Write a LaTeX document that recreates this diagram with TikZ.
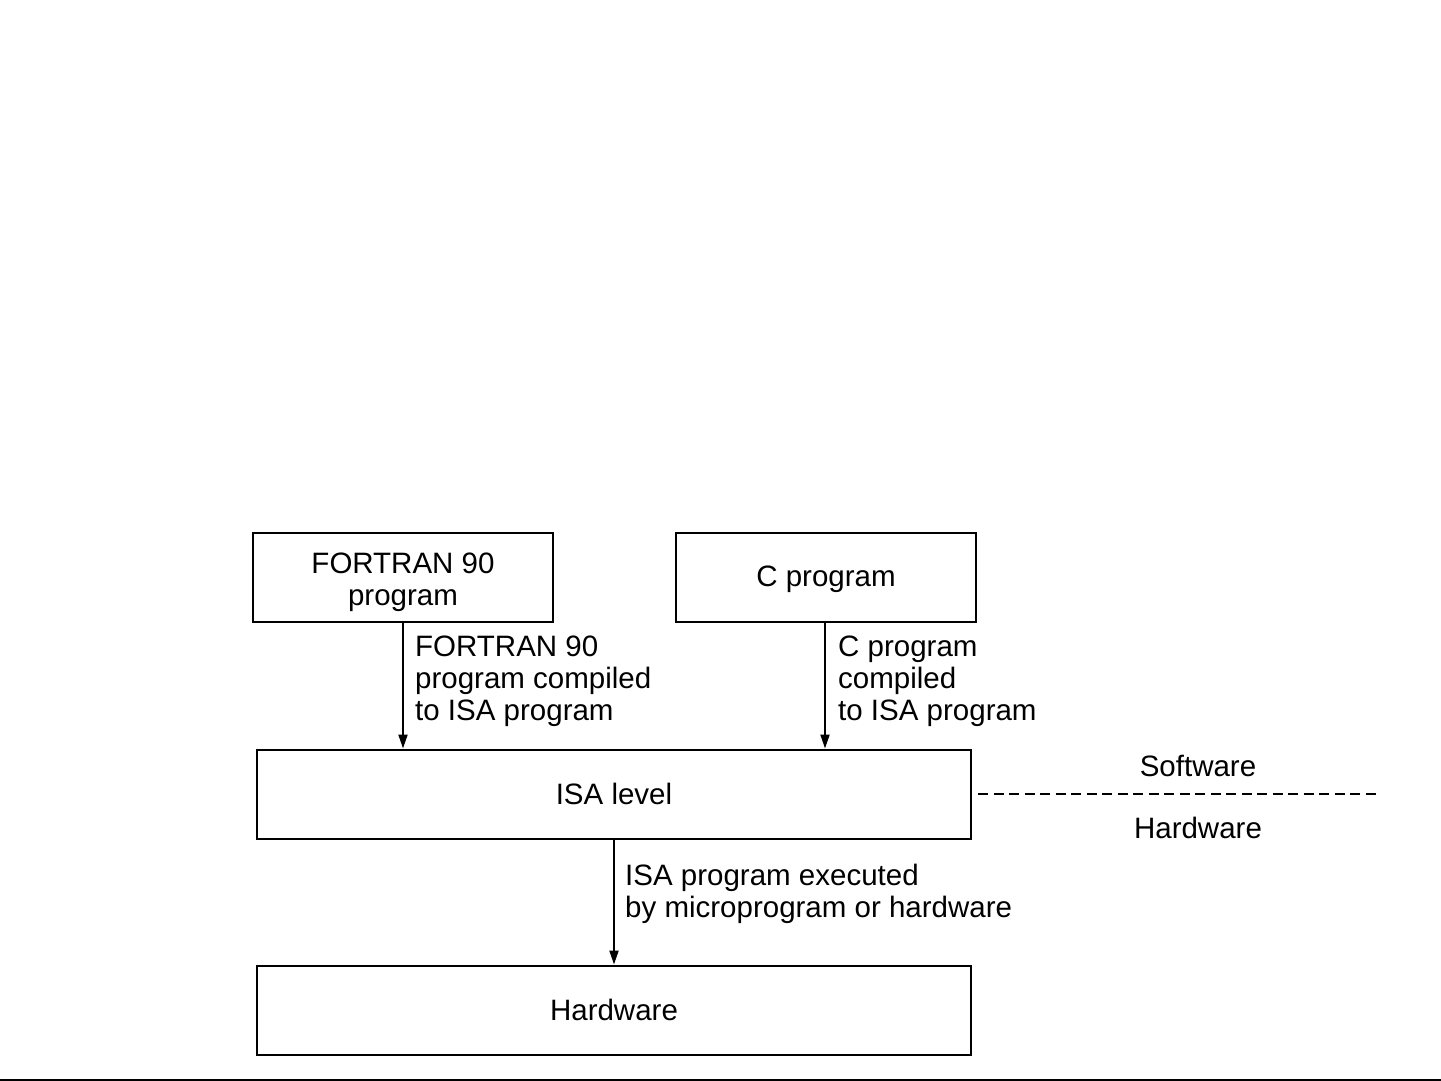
\documentclass[tikz,border=0pt]{standalone}
\usepackage{fontspec}
\setmainfont{Liberation Sans}
\usetikzlibrary{arrows.meta}
\begin{document}
\begin{tikzpicture}[x=1pt,y=-1pt,
  every node/.style={font=\fontsize{29.5}{32}\selectfont},
  box/.style={draw,line width=2pt,minimum width=#1,minimum height=89pt,inner sep=0pt,align=center},
  lbl/.style={anchor=west,align=left,inner sep=0pt},
  flow/.style={line width=2pt,-{Triangle[length=14pt,width=9pt]}}]
\useasboundingbox (0,0) rectangle (1441,1081);
\node[box=300pt] (fortran) at (403,577.5) {};
\node[align=center,inner sep=0pt] (ftext) at (403,582) {FORTRAN 90\\program};
\node[box=300pt] (cprog) at (826,577.5) {};
\node[inner sep=0pt] (ctext) at (826,579) {C program};
\node[box=714pt] (isa) at (614,794) {ISA level};
\node[box=714pt] (hw) at (614,1010) {Hardware};
\draw[flow] (fortran.south) -- (fortran.south |- isa.north);
\draw[flow] (cprog.south -| 825,0) -- (825,0 |- isa.north);
\draw[flow] (isa.south) -- (hw.north);
\node[lbl] (fl) at (415,681) {FORTRAN 90\\program compiled\\to ISA program};
\node[lbl] (cl) at (838,681) {C program\\compiled\\to ISA program};
\node[lbl] (il) at (625,894) {ISA program executed\\by microprogram or hardware};
\coordinate (dend) at (1379,794);
\draw[line width=2pt,dash pattern=on 10pt off 5.5pt] ([xshift=6pt]isa.east) -- (dend);
\node (sw) at (1198,766) {Software};
\node (hwl) at (1198,828) {Hardware};
\coordinate (bl) at (0,1080);
\coordinate (br) at (1441,1080);
\draw[line width=2pt] (bl) -- (br);
\end{tikzpicture}
\end{document}
